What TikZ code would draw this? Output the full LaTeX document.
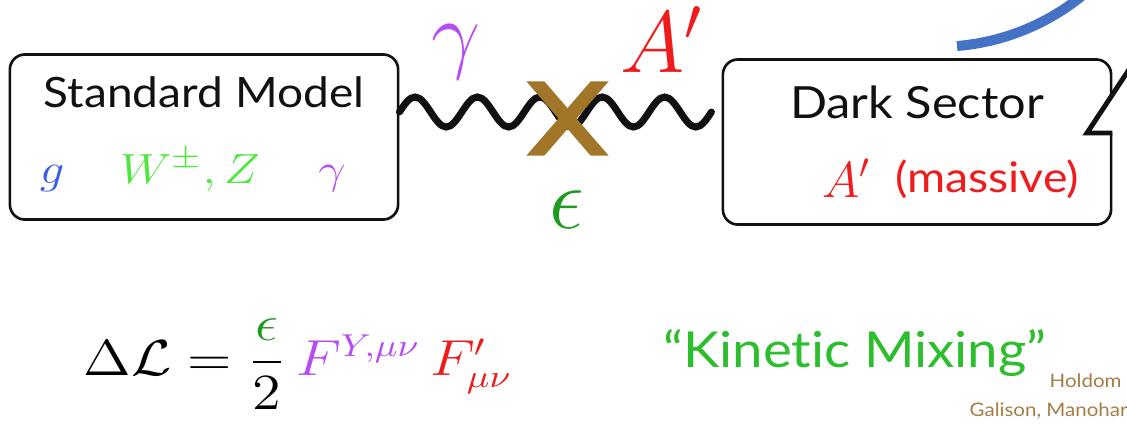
\documentclass[tikz,border=0pt]{standalone}
\usepackage{amsmath}
\usepackage[no-math]{fontspec}
\setmainfont{Lato}[FakeStretch=1.1, Ligatures={TeX,NoCommon}]
\usepackage{graphicx}
\definecolor{kmblack}{HTML}{111111}
\definecolor{kmblue}{HTML}{3A5BE8}
\definecolor{kmlime}{HTML}{4CE83C}
\definecolor{kmpurple}{HTML}{B64CF2}
\definecolor{kmred}{HTML}{EE1C1C}
\definecolor{kmgreen}{HTML}{1E9A1E}
\definecolor{kmtitle}{HTML}{2DBE2D}
\definecolor{kmbrown}{HTML}{A27628}
\definecolor{kmcite}{HTML}{A67C45}
\definecolor{kmarc}{HTML}{4472C4}
\tikzset{
  sectorbox/.style={
    draw=kmblack, fill=white, rounded corners=0.15cm, line width=0.75pt,
    minimum width=#1, minimum height=1.65cm, inner sep=0pt
  },
  sectortitle/.style={
    anchor=base, inner sep=0pt, text=kmblack,
    font=\fontsize{11.9}{14}\selectfont
  },
  fieldlbl/.style={anchor=base, inner sep=0pt, text=#1},
  photon/.style={draw=kmblack, line width=2pt, line cap=round},
  mixmark/.style={fill=kmbrown},
  calloutline/.style={draw=kmblack, line width=1.4pt, line join=miter},
  citetxt/.style={anchor=base west, inner sep=0pt, text=kmcite,
    font=\fontsize{5.3}{7}\selectfont}
}
\newcommand{\widemath}[1]{\scalebox{1.15}[1]{#1}}

\begin{document}
\begin{tikzpicture}[x=0.01cm, y=-0.01cm]
  \useasboundingbox (0,0) rectangle (1127,423);

  % the two sectors
  \node[sectorbox=3.88cm] (sm) at (204,137) {};
  \node[sectorbox=3.88cm] (ds) at (917,142) {};

  \node[sectortitle] (smtitle) at (204,107) {Standard Model};
  \node[fieldlbl=kmblue,font=\fontsize{13}{15}\selectfont] (smg) at (52,183)
    {\widemath{$g$}};
  \node[fieldlbl=kmlime,font=\fontsize{12.5}{15}\selectfont] (smwz) at (190,183)
    {\widemath{$W^{\pm},Z$}};
  \node[fieldlbl=kmpurple,font=\fontsize{13}{15}\selectfont] (smgam) at (332,183)
    {\widemath{$\gamma$}};

  \node[sectortitle,font=\fontsize{12.6}{15}\selectfont] (dstitle) at (917,118)
    {Dark Sector};
  \node[fieldlbl=kmred,font=\fontsize{14.5}{17}\selectfont] (dsa) at (847,197)
    {$A'$};
  \node[fieldlbl=kmred,font=\fontsize{12}{14}\selectfont] (dsmass) at (987,192)
    {(massive)};

  % mixing propagator
  \coordinate (wv) at (566,112);
  \node[inner sep=0pt, minimum width=0.81cm, minimum height=0.73cm] (cross)
    at (567.5,118.5) {};
  \draw[photon] (sm.east |- wv)
    \foreach \k in {1,...,5} {
      sin ++(15.6,-15) cos ++(15.6,15) sin ++(15.6,15) cos ++(15.6,-15)
    };
  \fill[mixmark] (cross.north west) -- ++(18,0) -- (cross.south east)
    -- ++(-18,0) -- cycle;
  \fill[mixmark] (cross.north east) -- ++(-18,0) -- (cross.south west)
    -- ++(18,0) -- cycle;

  \node[fieldlbl=kmpurple,font=\fontsize{34}{40}\selectfont] (gam) at (456,62)
    {$\gamma$};
  \node[fieldlbl=kmred,font=\fontsize{26}{30}\selectfont] (ap) at (662,72)
    {$A'$};
  \node[fieldlbl=kmgreen,font=\fontsize{34}{40}\selectfont] (eps) at (567,228)
    {$\epsilon$};

  % lagrangian term
  \node[anchor=base west, inner sep=0pt, font=\fontsize{13.5}{16}\selectfont]
    (lag) at (83,375)
    {\widemath{$\Delta\mathcal{L} = \dfrac{\textcolor{kmgreen}{\epsilon}}{2}\,
     \textcolor{kmpurple}{F^{Y,\mu\nu}}\,\textcolor{kmred}{F'_{\mu\nu}}$}};
  \node[anchor=base, inner sep=0pt, text=kmtitle,
    font=\fontsize{14.1}{17}\selectfont] (kin) at (855,367)
    {``Kinetic Mixing''};
  \node[citetxt] (holdom) at (1049,387) {Holdom};
  \node[citetxt] (galison) at (969,416) {Galison, Manohar};

  % cut-off shapes at the right edge
  \begin{scope}
    \clip (0,0) rectangle (1127,423);
    \draw[kmarc, line width=2.85pt] (957,46) .. controls (1006,42) and (1053,22) .. (1090,-11);
    \coordinate (tip) at (1087,133);
    \fill[white] (1130,73) -- (tip) -- (1130,133) -- cycle;
    \draw[calloutline] (1130,68) -- (tip) -- (ds.east |- tip);
  \end{scope}
\end{tikzpicture}
\end{document}
